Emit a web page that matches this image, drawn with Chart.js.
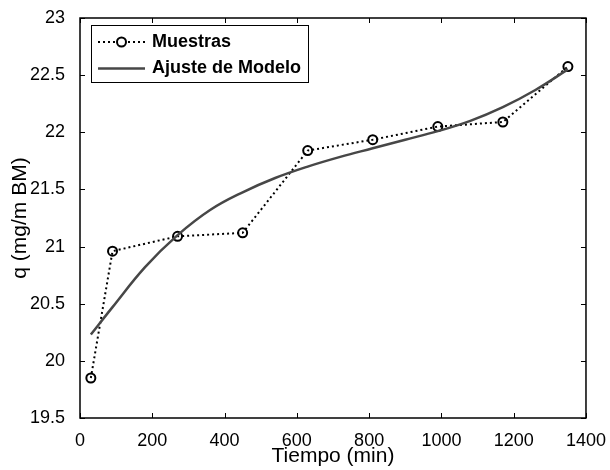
<!DOCTYPE html>
<html>
<head>
<meta charset="utf-8">
<script src="https://cdn.jsdelivr.net/npm/chart.js@4.4.0/dist/chart.umd.min.js"></script>
<style>
  html, body { margin: 0; padding: 0; background: #fff; }
</style>
</head>
<body>
<canvas id="qChart" width="610" height="470"></canvas>
<script>
// muestras (puntos medidos)
const sampleTimes = [30, 90, 270, 450, 630, 810, 990, 1170, 1350];
const sampleQ = [19.85, 20.96, 21.09, 21.12, 21.84, 21.935, 22.05, 22.09, 22.575];

// curva del modelo
const modelTimes = [30, 90, 180, 270, 360, 450, 540, 630, 720, 810, 900, 990, 1080, 1170, 1260, 1350];
const modelQ = [20.23, 20.47, 20.82, 21.10, 21.32, 21.475, 21.60, 21.70, 21.785, 21.86, 21.935, 22.01, 22.10, 22.22, 22.37, 22.55];

const seriesNames = ["Muestras", "Ajuste de Modelo"];
const xTitle = "Tiempo (min)";
const yTitle = "q (mg/m BM)";
const xRange = [0, 1400, 200];
const yRange = [19.5, 23, 0.5];

const FONT = "'Liberation Sans', Arial, sans-serif";
const toPoints = (xs, ys) => xs.map((x, i) => ({ x: x, y: ys[i] }));

// -------------------------------
// frame + inward ticks (matlab style)
// -------------------------------
const framePlugin = {
  id: "frame",
  afterDraw(chart) {
    const { ctx, chartArea: a, scales } = chart;
    const len = 5;
    ctx.save();
    ctx.strokeStyle = "#000";
    ctx.lineWidth = 1;
    ctx.beginPath();
    scales.x.ticks.forEach(t => {
      const px = Math.round(scales.x.getPixelForValue(t.value)) + 0.5;
      ctx.moveTo(px, a.bottom); ctx.lineTo(px, a.bottom - len);
      ctx.moveTo(px, a.top); ctx.lineTo(px, a.top + len);
    });
    scales.y.ticks.forEach(t => {
      const py = Math.round(scales.y.getPixelForValue(t.value)) + 0.5;
      ctx.moveTo(a.left, py); ctx.lineTo(a.left + len, py);
      ctx.moveTo(a.right, py); ctx.lineTo(a.right - len, py);
    });
    ctx.stroke();
    ctx.lineWidth = 1.5;
    ctx.strokeRect(a.left, a.top, a.right - a.left, a.bottom - a.top);
    ctx.restore();
  }
};

// -------------------------------
// legend box inside the plot
// -------------------------------
const legendPlugin = {
  id: "boxLegend",
  afterDraw(chart) {
    const { ctx, chartArea: a } = chart;
    const bx = a.left + 11, by = a.top + 7, bw = 217, bh = 57;
    ctx.save();
    ctx.fillStyle = "#fff";
    ctx.fillRect(bx, by, bw, bh);
    ctx.strokeStyle = "#000";
    ctx.lineWidth = 1;
    ctx.strokeRect(bx + 0.5, by + 0.5, bw, bh);

    const rows = [by + 17, by + 43.5];
    const x0 = bx + 7, x1 = bx + 54;

    // Muestras
    ctx.strokeStyle = "#000";
    ctx.lineWidth = 2;
    ctx.setLineDash([2, 3]);
    ctx.beginPath();
    ctx.moveTo(x0, rows[0]); ctx.lineTo(x1, rows[0]);
    ctx.stroke();
    ctx.setLineDash([]);
    ctx.beginPath();
    ctx.arc((x0 + x1) / 2, rows[0], 4.5, 0, Math.PI * 2);
    ctx.fillStyle = "#fff";
    ctx.fill();
    ctx.stroke();

    // Ajuste de Modelo
    ctx.strokeStyle = "#474747";
    ctx.lineWidth = 2.5;
    ctx.beginPath();
    ctx.moveTo(x0, rows[1]); ctx.lineTo(x1, rows[1]);
    ctx.stroke();

    ctx.fillStyle = "#000";
    ctx.font = "bold 18px " + FONT;
    ctx.textBaseline = "middle";
    ctx.fillText(seriesNames[0], x1 + 7, rows[0]);
    ctx.fillText(seriesNames[1], x1 + 7, rows[1]);
    ctx.restore();
  }
};

new Chart(document.getElementById("qChart"), {
  type: "scatter",
  data: {
    datasets: [
      {
        label: seriesNames[1],
        data: toPoints(modelTimes, modelQ),
        showLine: true,
        borderColor: "#474747",
        borderWidth: 2.5,
        pointRadius: 0,
        tension: 0.4
      },
      {
        label: seriesNames[0],
        data: toPoints(sampleTimes, sampleQ),
        showLine: true,
        borderColor: "#000",
        borderWidth: 2,
        borderDash: [2, 3],
        pointRadius: 4.5,
        pointBorderWidth: 2,
        pointBorderColor: "#000",
        pointBackgroundColor: "rgba(255,255,255,0)",
        tension: 0
      }
    ]
  },
  options: {
    responsive: false,
    animation: false,
    layout: { padding: { top: 18, right: 21, left: 0, bottom: 0 } },
    plugins: { legend: { display: false }, tooltip: { enabled: false } },
    scales: {
      x: {
        type: "linear",
        min: xRange[0], max: xRange[1],
        ticks: { stepSize: xRange[2], color: "#000", padding: 4, maxRotation: 0,
                 callback: v => String(v),
                 font: { family: FONT, size: 18 } },
        grid: { display: false },
        border: { display: false },
        title: { display: true, text: xTitle, color: "#000", padding: { top: 0, bottom: 1 },
                 font: { family: FONT, size: 21 } },
        afterFit(s) { s.height = 52; }
      },
      y: {
        type: "linear",
        min: yRange[0], max: yRange[1],
        ticks: { stepSize: yRange[2], color: "#000", padding: 7,
                 callback: v => String(v),
                 font: { family: FONT, size: 18 } },
        grid: { display: false },
        border: { display: false },
        title: { display: true, text: yTitle, color: "#000", padding: { top: 8, bottom: 0 },
                 font: { family: FONT, size: 21 } },
        afterFit(s) { s.width = 80; }
      }
    }
  },
  plugins: [framePlugin, legendPlugin]
});
</script>
</body>
</html>
